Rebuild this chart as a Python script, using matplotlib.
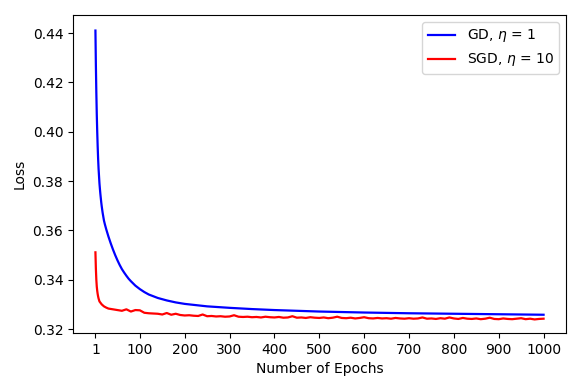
import matplotlib
matplotlib.use("Agg")
import matplotlib.pyplot as plt

gd_epochs = [1, 2, 3, 4, 5, 6, 7, 8, 9, 10, 11, 12, 13, 14, 15, 17, 20, 22, 25, 30,
             35, 40, 45, 50, 55, 60, 65, 70, 75, 80, 90, 100, 110, 120, 140, 160,
             180, 200, 250, 300, 350, 400, 450, 500, 600, 700, 800, 900, 1000]
gd_loss = [0.441, 0.427, 0.416, 0.407, 0.400, 0.394, 0.389, 0.385, 0.382, 0.379,
           0.3768, 0.3748, 0.3730, 0.3713, 0.3698, 0.3672, 0.3640, 0.3625, 0.3605,
           0.3575, 0.3548, 0.3523, 0.3500, 0.3479, 0.3460, 0.3443, 0.3429, 0.3416,
           0.3404, 0.3394, 0.3376, 0.3362, 0.3350, 0.3340, 0.3326, 0.3316, 0.3308,
           0.3302, 0.3292, 0.3286, 0.3281, 0.3277, 0.3274, 0.3271, 0.3267, 0.3264,
           0.3262, 0.3260, 0.3258]

sgd_epochs = [1, 2, 3, 4, 5, 6, 7, 8, 9, 10, 15, 20, 25, 30] + list(range(40, 1001, 10))
sgd_loss = [0.3511, 0.3445, 0.3400, 0.3372, 0.3355, 0.3342, 0.3332, 0.3324, 0.3318,
            0.3312, 0.3300, 0.3292, 0.3287, 0.3283,
            0.3280, 0.3277, 0.3274, 0.3280, 0.3271, 0.3277, 0.3276, 0.3266, 0.3264,
            0.3263, 0.3262, 0.3259, 0.3265, 0.3258, 0.3262, 0.3257, 0.3255, 0.3256,
            0.3254, 0.3253, 0.3259, 0.3252, 0.3253, 0.3251, 0.3252, 0.3250, 0.3251,
            0.3256, 0.3250, 0.3249, 0.3250, 0.3248, 0.3249, 0.3247, 0.3250, 0.3248,
            0.3247, 0.3249, 0.3246, 0.3247, 0.3252, 0.3246, 0.3247, 0.3245, 0.3248,
            0.3246, 0.3245, 0.3247, 0.3244, 0.3246, 0.3250, 0.3245, 0.3244, 0.3246,
            0.3243, 0.3245, 0.3248, 0.3244, 0.3243, 0.3245, 0.3243, 0.3244, 0.3242,
            0.3245, 0.3243, 0.3242, 0.3244, 0.3242, 0.3243, 0.3247, 0.3242, 0.3243,
            0.3241, 0.3244, 0.3242, 0.3247, 0.3243, 0.3241, 0.3245, 0.3242, 0.3241,
            0.3243, 0.3240, 0.3242, 0.3246, 0.3241, 0.3240, 0.3243, 0.3241, 0.3240,
            0.3242, 0.3244, 0.3240, 0.3242, 0.3239, 0.3241, 0.3242]

xticks = [1, 100, 200, 300, 400, 500, 600, 700, 800, 900, 1000]
yticks = [0.32, 0.34, 0.36, 0.38, 0.40, 0.42, 0.44]

fig = plt.figure(figsize=(5.81, 3.9), dpi=100)
ax = fig.add_axes([73 / 581, 1 - 333 / 390, (566 - 73) / 581, (333 - 15) / 390])
ax.plot(gd_epochs, gd_loss, color="blue", lw=1.6, label=r"GD, $\eta$ = 1")
ax.plot(sgd_epochs, sgd_loss, color="red", lw=1.6, label=r"SGD, $\eta$ = 10")
ax.set_xticks(xticks)
ax.set_xticklabels([str(t) for t in xticks])
ax.set_yticks(yticks)
ax.set_yticklabels([f"{v:.2f}" for v in yticks])
ax.set_xlim(-49, 1050)
ax.set_ylim(0.3184, 0.4473)
ax.set_xlabel("Number of Epochs")
ax.set_ylabel("Loss")
ax.legend(loc="upper right")
fig.savefig("out.png", dpi=100)
